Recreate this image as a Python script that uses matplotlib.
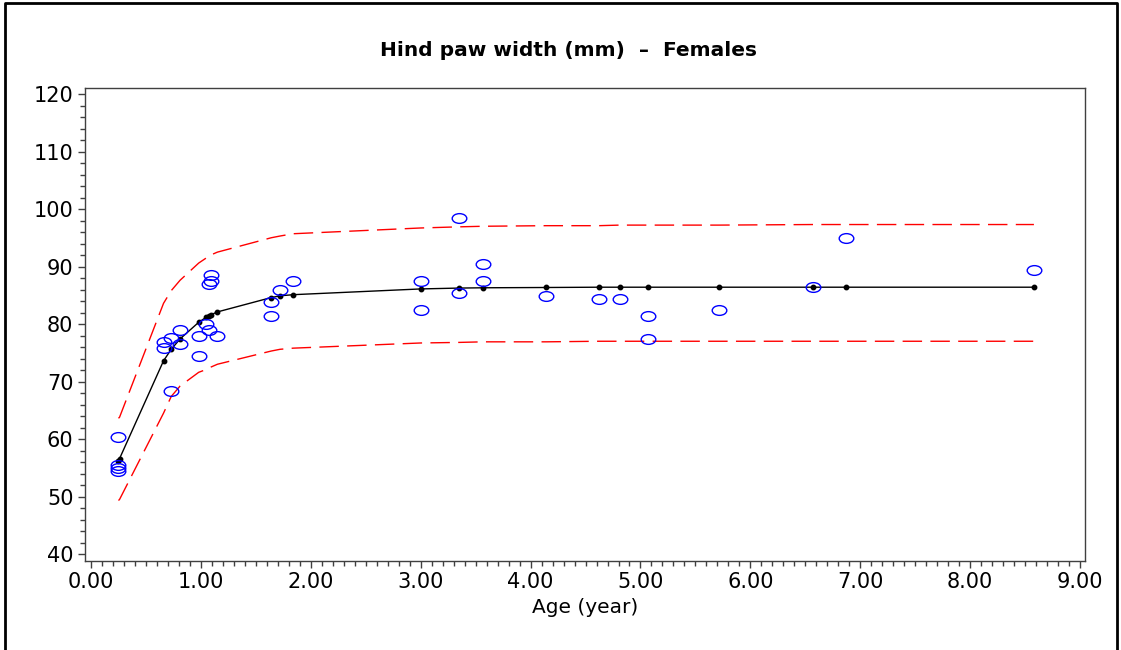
import matplotlib
matplotlib.use("Agg")
import matplotlib.pyplot as plt
from matplotlib.path import Path
from matplotlib.transforms import Affine2D
from matplotlib.lines import Line2D
from matplotlib.ticker import MultipleLocator, FormatStrFormatter

# Observed data (age in years, hind paw width in mm)
obs_age = [0.25, 0.25, 0.25, 0.25, 0.66, 0.66, 0.73, 0.73, 0.81, 0.81,
           0.98, 0.98, 1.05, 1.07, 1.07, 1.09, 1.09, 1.15, 1.64, 1.64,
           1.72, 1.84, 3.00, 3.00, 3.35, 3.35, 3.57, 3.57, 4.14, 4.62,
           4.81, 5.07, 5.07, 5.71, 6.57, 6.87, 8.58]
obs_width = [60.4, 55.5, 54.9, 54.4, 76.9, 75.9, 77.5, 68.4, 79.0, 76.5,
             78.0, 74.4, 80.0, 79.0, 87.0, 88.5, 87.5, 78.0, 83.9, 81.4,
             85.9, 87.5, 87.5, 82.4, 98.5, 85.4, 90.5, 87.5, 84.9, 84.4,
             84.4, 81.4, 77.4, 82.4, 86.4, 95.0, 89.4]

# Fitted curve and prediction band
fit_age = [0.25, 0.26, 0.66, 0.73, 0.81, 0.98, 1.05, 1.07, 1.09, 1.15,
           1.64, 1.72, 1.84, 3.00, 3.35, 3.57, 4.14, 4.62, 4.81, 5.07,
           5.71, 6.57, 6.87, 8.58]
fit_width = [56.1, 56.6, 73.6, 75.6, 77.4, 80.3, 81.2, 81.4, 81.6, 82.1,
             84.6, 84.9, 85.1, 86.1, 86.25, 86.3, 86.35, 86.4, 86.4, 86.4,
             86.4, 86.4, 86.4, 86.4]
upper = [63.6, 63.8, 83.6, 85.8, 87.6, 90.6, 91.5, 91.8, 92.0, 92.5,
         95.0, 95.3, 95.7, 96.7, 96.9, 97.0, 97.1, 97.1, 97.2, 97.2,
         97.2, 97.3, 97.3, 97.3]
lower = [49.3, 49.5, 64.5, 67.4, 69.2, 71.6, 72.1, 72.3, 72.5, 73.0,
         75.3, 75.6, 75.8, 76.7, 76.8, 76.9, 76.9, 77.0, 77.0, 77.0,
         77.0, 77.0, 77.0, 77.0]

x_ticks = [0, 1, 2, 3, 4, 5, 6, 7, 8, 9]
y_ticks = [40, 50, 60, 70, 80, 90, 100, 110, 120]

plt.rcParams['font.family'] = ['DejaVu Sans']

fig = plt.figure(figsize=(11.21, 6.5), dpi=100)
ax = fig.add_axes([0.0754, 0.1369, 0.8925, 0.7282])

ellipse = Path.unit_circle().transformed(Affine2D().scale(1.5, 1.0))

ax.plot(fit_age, upper, color='red', lw=1.0, dashes=(14, 6))
ax.plot(fit_age, lower, color='red', lw=1.0, dashes=(14, 6))
ax.plot(fit_age, fit_width, color='black', lw=1.0, marker='o',
        markersize=3.2, markerfacecolor='black', markeredgecolor='black')
ax.plot(obs_age, obs_width, linestyle='none', marker=ellipse,
        markersize=10.5, markerfacecolor='none', markeredgecolor='#0000ff',
        markeredgewidth=1.0)

ax.set_xlim(-0.059, 9.045)
ax.set_ylim(38.78, 121.1)
ax.set_xticks(x_ticks)
ax.set_yticks(y_ticks)
ax.xaxis.set_major_formatter(FormatStrFormatter('%.2f'))
ax.xaxis.set_minor_locator(MultipleLocator(0.1))
ax.yaxis.set_minor_locator(MultipleLocator(2))
ax.tick_params(axis='both', which='major', direction='out', length=5,
               width=1, color='#404040', labelsize=15, pad=3)
ax.tick_params(axis='both', which='minor', direction='out', length=3.5,
               width=1, color='#404040')
for s in ax.spines.values():
    s.set_color('#404040')
    s.set_linewidth(1.0)

ax.set_xlabel('Age (year)', fontsize=14.5, labelpad=4)

fig.text(569 / 1121, 1 - 50 / 650, 'Hind paw width (mm)  \u2013  Females',
         ha='center', va='center', fontsize=14.5, fontweight='bold')

# outer border (left, top, right)
fig.add_artist(Line2D([5 / 1121, 5 / 1121, 1117 / 1121, 1117 / 1121],
                      [0, 1 - 3 / 650, 1 - 3 / 650, 0],
                      transform=fig.transFigure, color='black', lw=2))

fig.savefig('out.png', dpi=100)
